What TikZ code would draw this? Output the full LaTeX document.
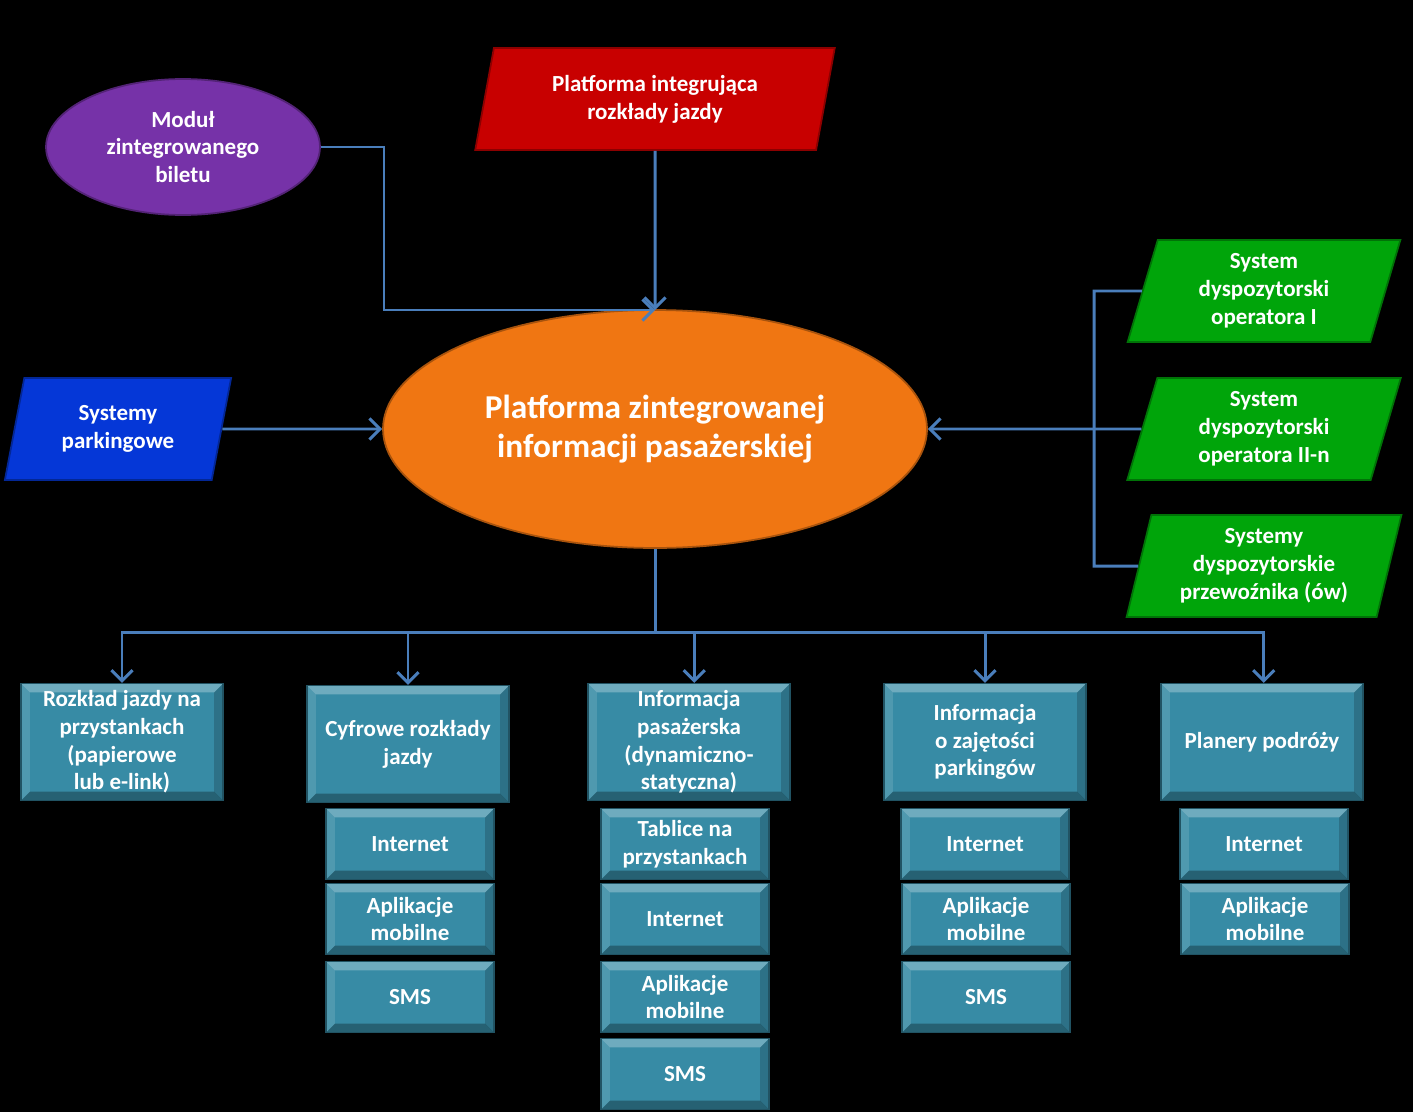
\documentclass[tikz,border=0pt]{standalone}
\usepackage{fontspec}
\setmainfont{Carlito}
\usepackage{tikz}
\usetikzlibrary{shapes.geometric,arrows.meta}

\definecolor{fiolet}{RGB}{118,50,168}
\definecolor{czerwony}{RGB}{200,0,0}
\definecolor{pomarancz}{RGB}{240,118,18}
\definecolor{niebieski}{RGB}{5,55,215}
\definecolor{zielony}{RGB}{0,165,10}
\definecolor{morski}{RGB}{55,139,165}
\definecolor{linia}{RGB}{74,126,187}

\begin{document}
\begin{tikzpicture}[x=0.02cm,y=-0.02cm,
  txt/.style={text=white,font=\bfseries\fontsize{13.1}{15.8}\selectfont,align=center,inner sep=0pt},
  owal/.style={txt,ellipse,fill=#1,draw=#1!70!black,line width=1pt},
  rownoleg/.style={txt,trapezium,trapezium left angle=76,trapezium right angle=104,
    trapezium stretches=true,minimum width=5.5cm,minimum height=2.04cm,fill=#1,draw=#1!70!black,line width=1pt},
  skos/.style={path picture={
    \fill[white,opacity=.28] (path picture bounding box.north west) -- (path picture bounding box.north east)
      -- ([xshift=-5pt,yshift=-5pt]path picture bounding box.north east) -- ([xshift=5pt,yshift=-5pt]path picture bounding box.north west) -- cycle;
    \fill[black,opacity=.3] (path picture bounding box.south west) -- (path picture bounding box.south east)
      -- ([xshift=-5pt,yshift=5pt]path picture bounding box.south east) -- ([xshift=5pt,yshift=5pt]path picture bounding box.south west) -- cycle;
    \fill[white,opacity=.12] (path picture bounding box.north west) -- (path picture bounding box.south west)
      -- ([xshift=5pt,yshift=5pt]path picture bounding box.south west) -- ([xshift=5pt,yshift=-5pt]path picture bounding box.north west) -- cycle;
    \fill[black,opacity=.18] (path picture bounding box.north east) -- (path picture bounding box.south east)
      -- ([xshift=-5pt,yshift=5pt]path picture bounding box.south east) -- ([xshift=-5pt,yshift=-5pt]path picture bounding box.north east) -- cycle;
  }},
  pudlo/.style={txt,rectangle,fill=morski,draw=morski!60!black,line width=.8pt,skos,minimum width=4.04cm,minimum height=2.34cm},
  maly/.style={pudlo,minimum width=3.36cm,minimum height=1.42cm},
  polacz/.style={draw=linia,line width=1.7pt},
  strz/.style={polacz,-{Straight Barb[length=6pt,width=12pt,line width=1.7pt]}}]

\fill[black] (0,0) rectangle (1413,1112);

\node [owal=fiolet,minimum width=5.48cm,minimum height=2.72cm] (modul) at (183,147) {Moduł\\zintegrowanego\\biletu};
\node [rownoleg=czerwony,minimum width=7.2cm] (rozklady) at (655,99) {Platforma integrująca\\rozkłady jazdy};
\node [owal=pomarancz,minimum width=10.88cm,minimum height=4.76cm,font=\bfseries\fontsize{19}{22}\selectfont] (platforma) at (655,429) {Platforma zintegrowanej\\informacji pasażerskiej};
\node [rownoleg=niebieski,minimum width=4.54cm] (parking) at (118,429) {Systemy\\parkingowe};
\node [rownoleg=zielony] (op1) at (1264,291) {System\\dyspozytorski\\operatora I};
\node [rownoleg=zielony] (op2) at (1264,429) {System\\dyspozytorski\\operatora II-n};
\node [rownoleg=zielony] (op3) at (1264,566) {Systemy\\dyspozytorskie\\przewoźnika (ów)};

\node [pudlo] (rozp) at (122,742) {Rozkład jazdy na\\przystankach\\(papierowe\\lub e-link)};
\node [pudlo] (cyfr) at (408,744) {Cyfrowe rozkłady\\jazdy};
\node [pudlo] (info) at (689,742) {Informacja\\pasażerska\\(dynamiczno-\\statyczna)};
\node [pudlo] (zajet) at (985,742) {Informacja\\o zajętości\\parkingów};
\node [pudlo] (plan) at (1262,742) {Planery podróży};

\node [maly] (cyfr1) at (410,844) {Internet};
\node [maly] (cyfr2) at (410,919) {Aplikacje\\mobilne};
\node [maly] (cyfr3) at (410,997) {SMS};
\node [maly] (info1) at (685,844) {Tablice na\\przystankach};
\node [maly] (info2) at (685,919) {Internet};
\node [maly] (info3) at (685,997) {Aplikacje\\mobilne};
\node [maly] (info4) at (685,1074) {SMS};
\node [maly] (zajet1) at (985,844) {Internet};
\node [maly] (zajet2) at (986,919) {Aplikacje\\mobilne};
\node [maly] (zajet3) at (986,997) {SMS};
\node [maly] (plan1) at (1264,844) {Internet};
\node [maly] (plan2) at (1265,919) {Aplikacje\\mobilne};

\coordinate (wejscie) at (655,310);
\coordinate (szyna) at (655,632);
\draw [polacz] (modul.east) -| (384,250);
\draw [strz] (384,250) |- (wejscie);
\draw [strz] (rozklady.south) -- (wejscie);
\draw [strz] (parking.east) -- (platforma.west);
\draw [strz] (op2.west) -- (platforma.east);
\draw [polacz] (op1.west) -- (1094,291) -- (1094,566) -- (op3.west);
\draw [polacz] (platforma.south) -- (szyna);
\draw [strz] (szyna) -| (rozp.north);
\draw [strz] (szyna) -| (cyfr.north);
\draw [strz] (szyna) -| ([xshift=3pt]info.north);
\draw [strz] (szyna) -| (zajet.north);
\draw [strz] (szyna) -| ([xshift=1pt]plan.north);
\end{tikzpicture}
\end{document}
